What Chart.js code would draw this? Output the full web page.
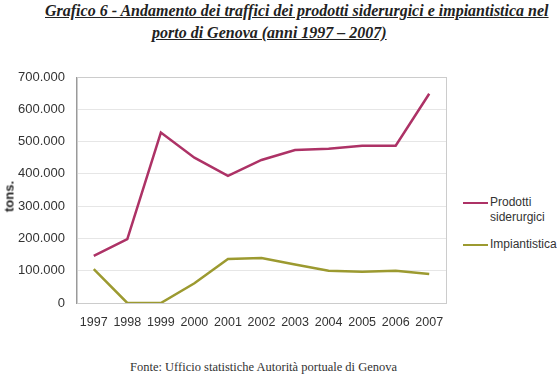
<!DOCTYPE html>
<html>
<head>
<meta charset="utf-8">
<script src="https://cdn.jsdelivr.net/npm/chart.js@4"></script>
<style>
  body { margin: 0; background: #fff; width: 557px; height: 375px; position: relative; overflow: hidden; }
  .title { position: absolute; font-family: "Liberation Serif", serif; font-weight: bold; font-style: italic;
           font-size: 16px; color: #222; text-decoration: underline; white-space: nowrap; }
  #wrap { position: absolute; left: 0; top: 55px; width: 460px; height: 287px; }
  .ytitle { position: absolute; left: -8px; top: 189px; width: 34px; text-align: center; transform: rotate(-90deg);
            font-family: "Liberation Sans", Arial, sans-serif; font-size: 13px; font-weight: bold; color: #222; line-height: 15px; }
  .legend { position: absolute; left: 463px; font-family: "Liberation Sans", Arial, sans-serif; font-size: 12px; color: #333; line-height: 15px; }
  .legend span.sw { position: absolute; left: 0; top: 7px; width: 25px; height: 2px; }
  .legend div.tx { margin-left: 27px; }
  .foot { position: absolute; left: 130px; top: 360px; font-family: "Liberation Serif", serif; font-size: 12.5px; color: #333; white-space: nowrap; }
</style>
</head>
<body>
<div class="title" style="left:45px; top:2px;">Grafico 6 - Andamento dei traffici dei prodotti siderurgici e impiantistica nel</div>
<div class="title" style="left:152px; top:24px;">porto di Genova (anni 1997 – 2007)</div>
<div id="wrap"><canvas id="c"></canvas></div>
<div class="ytitle">tons.</div>
<div class="legend" style="top:195px;"><span class="sw" style="background:#ad3266"></span><div class="tx">Prodotti<br>siderurgici</div></div>
<div class="legend" style="top:237px;"><span class="sw" style="background:#9c9a30"></span><div class="tx">Impiantistica</div></div>
<div class="foot">Fonte: Ufficio statistiche Autorità portuale di Genova</div>
<script>
const years = ['1997', '1998', '1999', '2000', '2001', '2002', '2003', '2004', '2005', '2006', '2007'];
const prodotti = [146000, 198000, 528000, 450000, 394000, 443000, 474000, 478000, 487000, 487000, 648000];
const impiantistica = [105000, 0, 0, 61000, 136000, 139000, 119000, 100000, 97000, 100000, 90000];

function fmt(v) {
    return String(v).replace(/\B(?=(\d{3})+(?!\d))/g, '.');
}

new Chart(document.getElementById('c'), {
    type: 'line',
    data: {
        labels: years,
        datasets: [
            { label: 'Prodotti siderurgici', data: prodotti, borderColor: '#ad3266', borderWidth: 2.5, pointRadius: 0, tension: 0 },
            { label: 'Impiantistica', data: impiantistica, borderColor: '#9c9a30', borderWidth: 2.5, pointRadius: 0, tension: 0 }
        ]
    },
    options: {
        responsive: true,
        maintainAspectRatio: false,
        animation: false,
        layout: { padding: { top: 22, right: 14, bottom: 0, left: 6 } },
        plugins: { legend: { display: false }, tooltip: { enabled: false } },
        scales: {
            y: {
                min: 0, max: 700000,
                ticks: { stepSize: 100000, color: '#333', padding: 12, font: { family: 'Liberation Sans', size: 13 }, callback: v => fmt(v) },
                grid: { color: '#e6e6e6', drawTicks: false },
                border: { color: '#999' }
            },
            x: {
                offset: true,
                ticks: { color: '#333', padding: 12, maxRotation: 0, minRotation: 0, autoSkip: false, font: { family: 'Liberation Sans', size: 12.5 } },
                grid: { display: false, drawTicks: false },
                border: { color: '#999' }
            }
        }
    },
    plugins: [{
        id: 'frame',
        afterDraw(chart) {
            const { ctx, chartArea: a } = chart;
            ctx.save();
            ctx.strokeStyle = '#ccc';
            ctx.lineWidth = 1;
            ctx.strokeRect(a.left + 0.5, a.top + 0.5, a.right - a.left, a.bottom - a.top);
            ctx.restore();
        }
    }]
});
</script>
</body>
</html>
